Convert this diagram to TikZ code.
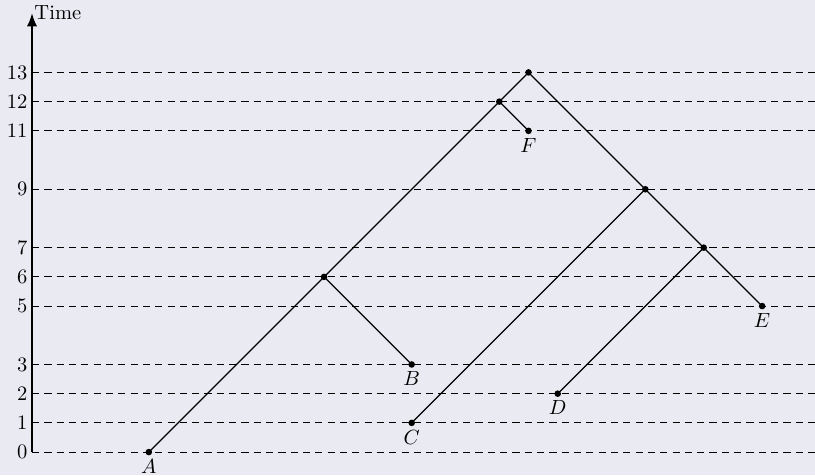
\documentclass[tikz,border=0pt]{standalone}
\usetikzlibrary{arrows.meta}
\definecolor{bgc}{HTML}{EAEAF2}
\begin{document}
\begin{tikzpicture}[x=0.5cm,y=0.5cm,
  level/.style={dash pattern=on 3.5pt off 2.5pt,line width=0.55pt},
  branch/.style={semithick},
  pt/.style={circle,fill=black,inner sep=0pt,minimum size=3.2pt},
  lab/.style={below,inner sep=1.5pt},
  tick/.style={left,inner sep=2pt}]
\fill[bgc] (-1.096,-0.79) rectangle (26.81,15.48);
\useasboundingbox (-1.096,-0.79) rectangle (26.81,15.48);
% levels
\foreach \t in {0,1,2,3,5,6,7,9,11,12,13}{
  \coordinate (l\t) at (0,\t);
  \coordinate (r\t) at (26.81,\t);
  \draw[level] (l\t) -- (r\t);
  \node[tick] at (l\t) {\t};
}
% axis
\coordinate (o) at (0,0);
\coordinate (top) at (0,15.03);
\draw[thick,-{Latex[length=6.5pt,width=5pt]}] (o) -- (top);
\node[anchor=west,inner sep=1pt] at (top) {Time};
% nodes
\node[pt] (A) at (4,0) {};
\node[pt] (B) at (13,3) {};
\node[pt] (C) at (13,1) {};
\node[pt] (D) at (18,2) {};
\node[pt] (E) at (25,5) {};
\node[pt] (F) at (17,11) {};
\node[pt] (n6) at (10,6) {};
\node[pt] (n12) at (16,12) {};
\node[pt] (n13) at (17,13) {};
\node[pt] (n9) at (21,9) {};
\node[pt] (n7) at (23,7) {};
\foreach \n in {A,B,C,D,E,F}{\node[lab] at (\n.south) {$\n$};}
% branches
\draw[branch] (A.center) -- (n6.center) -- (n12.center) -- (n13.center) -- (n9.center) -- (n7.center) -- (E.center);
\draw[branch] (n6.center) -- (B.center);
\draw[branch] (n12.center) -- (F.center);
\draw[branch] (n9.center) -- (C.center);
\draw[branch] (n7.center) -- (D.center);
\end{tikzpicture}
\end{document}
